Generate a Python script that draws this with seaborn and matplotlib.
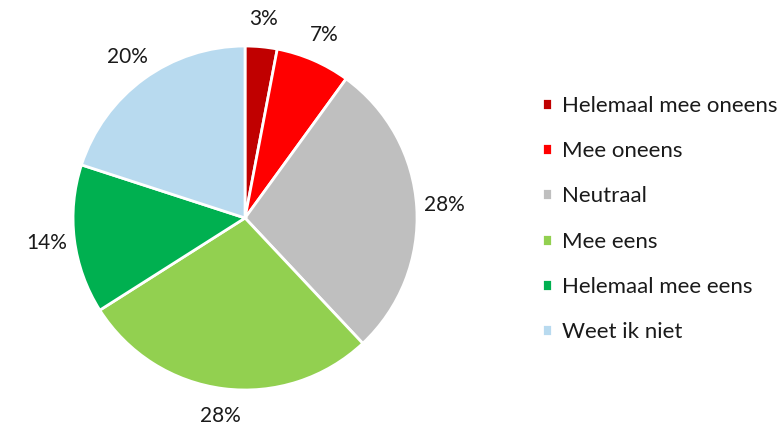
"""Pie chart: answer distribution (Dutch agreement scale)."""
import matplotlib as mpl
mpl.use("Agg")
import matplotlib.pyplot as plt
import seaborn as sns

CATEGORIES = ["Helemaal mee oneens", "Mee oneens", "Neutraal", "Mee eens",
              "Helemaal mee eens", "Weet ik niet"]
PERCENTAGES = [3, 7, 28, 28, 14, 20]
COLORS = ["#C00000", "#FF0000", "#BFBFBF", "#92D050", "#00B050", "#B8DAEF"]

sns.set_theme(style="white")
plt.rcParams["font.family"] = ["Lato", "DejaVu Sans"]

fig = plt.figure(figsize=(7.81, 4.26), dpi=100)
ax = fig.add_axes([0.0935, 0.0845, 0.4405, 0.8075])
palette = sns.color_palette(COLORS)

wedges, texts = ax.pie(
    PERCENTAGES,
    colors=palette,
    labels=[f"{p}%" for p in PERCENTAGES],
    startangle=90,
    counterclock=False,
    labeldistance=1.16,
    wedgeprops={"edgecolor": "white", "linewidth": 2.0},
    textprops={"fontsize": 15, "color": "#1a1a1a"},
)
for t in texts:
    t.set_horizontalalignment("center")
    t.set_verticalalignment("center")
    t.set_clip_on(False)
ax.set_aspect("equal")
ax.set_xlim(-1, 1)
ax.set_ylim(-1, 1)

fig.legend(
    wedges, CATEGORIES,
    loc="center left",
    bbox_to_anchor=(0.668, 0.486),
    frameon=False,
    fontsize=16,
    handlelength=0.45,
    handleheight=0.45,
    handletextpad=0.45,
    labelspacing=1.14,
    labelcolor="#1a1a1a",
)

fig.savefig("out.png", dpi=100, facecolor="white")
